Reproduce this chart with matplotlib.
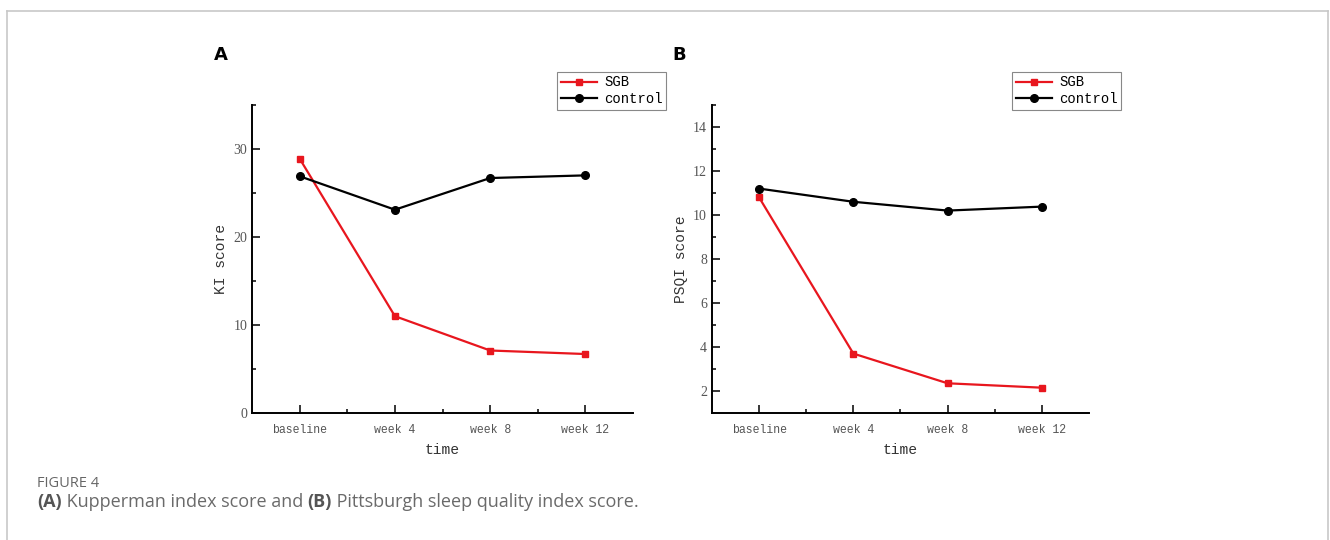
import matplotlib
matplotlib.use("Agg")
import matplotlib.pyplot as plt
from matplotlib.lines import Line2D

# data
times = ["baseline", "week 4", "week 8", "week 12"]
ki_sgb = [28.9, 11.0, 7.1, 6.7]
ki_control = [26.9, 23.1, 26.7, 27.0]
psqi_sgb = [10.8, 3.7, 2.35, 2.15]
psqi_control = [11.2, 10.6, 10.2, 10.38]

red = "#e8161e"
mono = "Liberation Mono"

fig = plt.figure(figsize=(13.3, 5.4), dpi=100)

# light frame around the figure
for xs, ys in [([0.0055, 0.0055], [0, 0.98]), ([0.9985, 0.9985], [0, 0.98]),
               ([0.0055, 0.9985], [0.98, 0.98])]:
    fig.add_artist(Line2D(xs, ys, color="#c8c8c8", lw=1.2, transform=fig.transFigure))

def panel(rect, sgb, control, ylabel, ylim, major, legend_x):
    ax = fig.add_axes(rect)
    x = list(range(len(times)))
    ax.plot(x, sgb, color=red, lw=1.6, marker="s", ms=5, label="SGB")
    ax.plot(x, control, color="black", lw=1.6, marker="o", ms=5.5, label="control")
    ax.set_xlim(-0.5, 3.5)
    ax.set_ylim(*ylim)
    ax.set_xticks(x)
    ax.set_xticklabels(times, fontfamily=mono, fontsize=8.3, color="#555555")
    ax.set_xticks([0.5, 1.5, 2.5], minor=True)
    ax.set_yticks(major)
    ax.set_yticklabels([str(v) for v in major], fontfamily="Liberation Serif",
                       fontsize=10, color="#555555")
    step = major[1] - major[0]
    ax.set_yticks([v + step / 2 for v in major], minor=True)
    ax.tick_params(which="major", direction="in", length=5.5, width=1.1)
    ax.tick_params(which="minor", direction="in", length=3, width=1.1)
    ax.tick_params(axis="x", which="major", pad=8)
    for s in ["top", "right"]:
        ax.spines[s].set_visible(False)
    for s in ["left", "bottom"]:
        ax.spines[s].set_linewidth(1.4)
    ax.set_xlabel("time", fontfamily=mono, fontsize=10.5, color="#333333", labelpad=5)
    ax.set_ylabel(ylabel, fontfamily=mono, fontsize=10.5, color="#333333", labelpad=4)
    leg = ax.legend(loc="upper right", bbox_to_anchor=(legend_x, 0.8667),
                    bbox_transform=fig.transFigure, borderaxespad=0,
                    fancybox=False, edgecolor="#888888", framealpha=1,
                    prop={"family": mono, "size": 10}, handlelength=2.6,
                    handletextpad=0.5, borderpad=0.25, labelspacing=0.2)
    leg.get_frame().set_linewidth(0.8)
    return ax

panel([0.1895, 0.2352, 0.2865, 0.5704], ki_sgb, ki_control, "KI score",
      (0, 35), [0, 10, 20, 30], 0.5008)
panel([0.5353, 0.2352, 0.2835, 0.5704], psqi_sgb, psqi_control, "PSQI score",
      (1, 15), [2, 4, 6, 8, 10, 12, 14], 0.8429)

fig.text(0.1605, 0.898, "A", fontsize=13, fontweight="bold", fontfamily="DejaVu Sans",
         va="center")
fig.text(0.5055, 0.898, "B", fontsize=13, fontweight="bold", fontfamily="DejaVu Sans",
         va="center")

# caption
fig.text(0.0278, 0.105, "FIGURE 4", fontsize=10.5, fontfamily="Open Sans", color="#666666",
         va="center")

parts = [("(A)", "bold", "#555555"), (" Kupperman index score and ", "normal", "#6a6a6a"),
         ("(B)", "bold", "#555555"), (" Pittsburgh sleep quality index score.", "normal", "#6a6a6a")]
fig.canvas.draw()
renderer = fig.canvas.get_renderer()
xpos = 0.0278
for txt, w, c in parts:
    t = fig.text(xpos, 0.07, txt, fontsize=13, fontfamily="Open Sans",
                 fontweight=w, color=c, va="center")
    bb = t.get_window_extent(renderer=renderer)
    xpos += bb.width / fig.bbox.width

fig.savefig("out.png", dpi=100)
